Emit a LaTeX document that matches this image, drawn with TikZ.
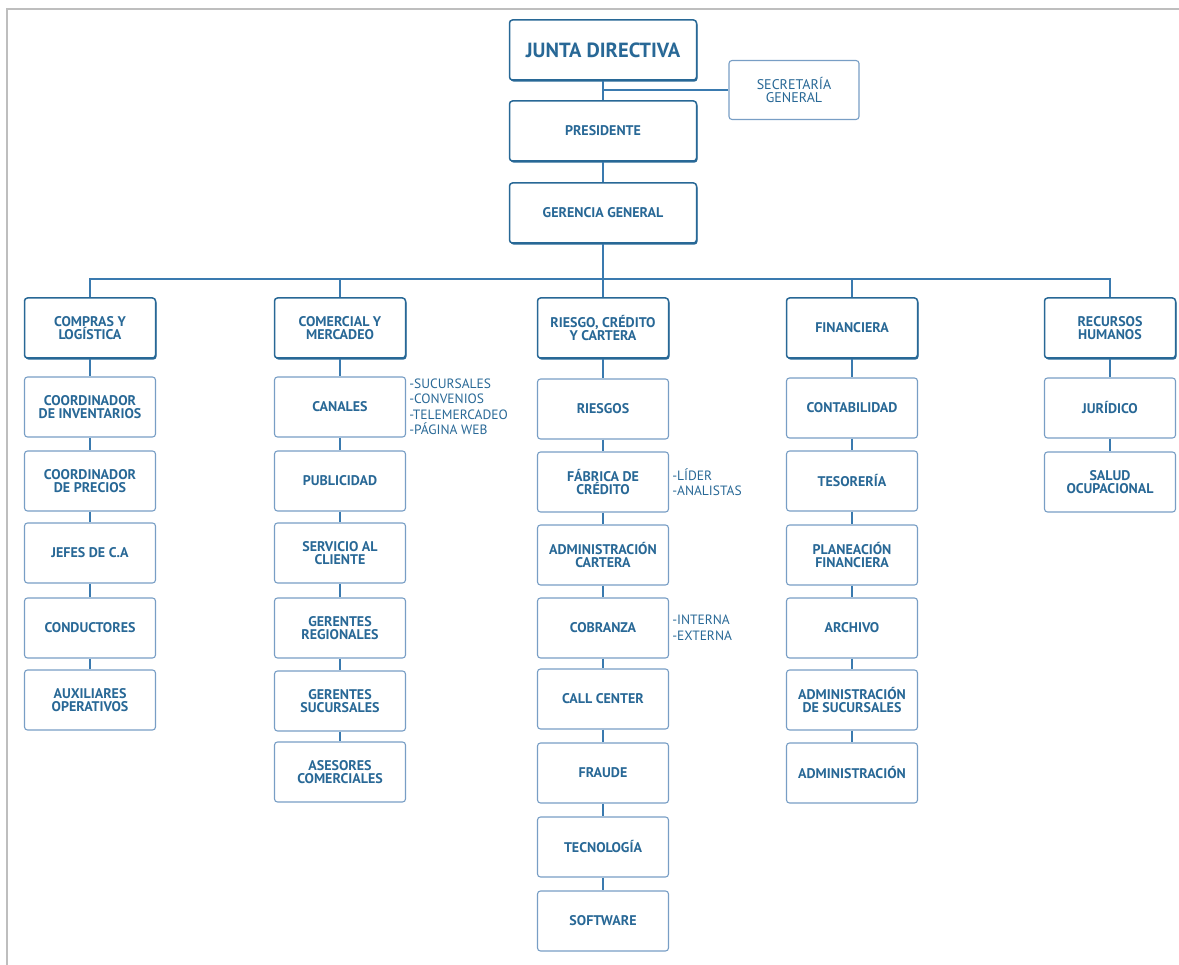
\documentclass[tikz,border=0pt]{standalone}
\usepackage{fontspec}
\setmainfont{PT Sans}
\usetikzlibrary{shadows,positioning}
\definecolor{orgblue}{RGB}{40,104,150}
\definecolor{orgline}{RGB}{58,122,175}
\definecolor{orglight}{RGB}{120,158,197}
\definecolor{framegray}{RGB}{190,190,190}

\tikzset{
  headbox/.style={draw=orgblue, line width=1.5pt, fill=white, rounded corners=3pt,
    minimum width=131pt, minimum height=60pt, inner sep=2pt, align=center,
    text=orgblue, font=\bfseries\fontsize{14}{13.5}\selectfont,
    general shadow={fill=orgblue, shadow xshift=1pt, shadow yshift=-1.6pt}},
  topbox/.style={headbox, minimum width=187pt},
  subbox/.style={draw=orglight, line width=1.1pt, fill=white, rounded corners=3pt,
    minimum width=131pt, minimum height=60pt, inner sep=2pt, align=center,
    text=orgblue, font=\bfseries\fontsize{14}{13.5}\selectfont},
  sidelist/.style={right=3pt, align=left, text=orgblue, inner sep=0pt,
    font=\fontsize{13.5}{15.5}\selectfont},
  link/.style={draw=orgline, line width=2.4pt}
}

\begin{document}
\begin{tikzpicture}[x=1pt,y=-1pt]
\useasboundingbox (0,0) rectangle (1179,965);

% to draw the grey frame
\draw [framegray, line width=2pt] (7,965) -- (7,9) -- (1179,9);

% to write the top of the chart
\node [topbox, font=\bfseries\fontsize{20.5}{21}\selectfont] (junta) at (603,50) {JUNTA DIRECTIVA};
\node [subbox, minimum width=130pt, minimum height=59pt, font=\fontsize{14}{13.5}\selectfont] (secre) at (794,90) {SECRETARÍA\\GENERAL};
\node [topbox] (pres) at (603,131) {PRESIDENTE};
\node [topbox] (gerencia) at (603,213) {GERENCIA GENERAL};

%Areas:
\node [headbox] (compras) at (90,328) {COMPRAS Y\\LOGÍSTICA};
\node [headbox] (comercial) at (340,328) {COMERCIAL Y\\MERCADEO};
\node [headbox] (riesgo) at (603,328) {RIESGO, CRÉDITO\\Y CARTERA};
\node [headbox] (financiera) at (852,328) {FINANCIERA};
\node [headbox] (rrhh) at (1110,328) {RECURSOS\\HUMANOS};

%Compras y logistica:
\node [subbox] (inventarios) at (90,407) {COORDINADOR\\DE INVENTARIOS};
\node [subbox] (precios) at (90,481) {COORDINADOR\\DE PRECIOS};
\node [subbox] (jefes) at (90,553) {JEFES DE C.A};
\node [subbox] (conductores) at (90,628) {CONDUCTORES};
\node [subbox] (auxiliares) at (90,700) {AUXILIARES\\OPERATIVOS};

%Comercial y mercadeo:
\node [subbox] (canales) at (340,407) {CANALES};
\node [subbox] (publicidad) at (340,481) {PUBLICIDAD};
\node [subbox] (servicio) at (340,553) {SERVICIO AL\\CLIENTE};
\node [subbox] (regionales) at (340,628) {GERENTES\\REGIONALES};
\node [subbox] (sucursales) at (340,701) {GERENTES\\SUCURSALES};
\node [subbox] (asesores) at (340,772) {ASESORES\\COMERCIALES};
\node [sidelist] (canaleslist) at (canales.east) {-SUCURSALES\\-CONVENIOS\\-TELEMERCADEO\\-PÁGINA WEB};

%Riesgo, credito y cartera:
\node [subbox] (riesgos) at (603,409) {RIESGOS};
\node [subbox] (fabrica) at (603,482) {FÁBRICA DE\\CRÉDITO};
\node [subbox] (cartera) at (603,555) {ADMINISTRACIÓN\\CARTERA};
\node [subbox] (cobranza) at (603,628) {COBRANZA};
\node [subbox] (callcenter) at (603,699) {CALL CENTER};
\node [subbox] (fraude) at (603,773) {FRAUDE};
\node [subbox] (tecnologia) at (603,847) {TECNOLOGÍA};
\node [subbox] (software) at (603,921) {SOFTWARE};
\node [sidelist] (fabricalist) at (fabrica.east) {-LÍDER\\-ANALISTAS};
\node [sidelist] (cobranzalist) at (cobranza.east) {-INTERNA\\-EXTERNA};

%Financiera:
\node [subbox] (contabilidad) at (852,408) {CONTABILIDAD};
\node [subbox] (tesoreria) at (852,481) {TESORERÍA};
\node [subbox] (planeacion) at (852,555) {PLANEACIÓN\\FINANCIERA};
\node [subbox] (archivo) at (852,628) {ARCHIVO};
\node [subbox] (adminsuc) at (852,700) {ADMINISTRACIÓN\\DE SUCURSALES};
\node [subbox] (administracion) at (852,773) {ADMINISTRACIÓN};

%Recursos humanos:
\node [subbox] (juridico) at (1110,408) {JURÍDICO};
\node [subbox] (salud) at (1110,482) {SALUD\\OCUPACIONAL};

% to draw the connectors
\coordinate (bus) at (603,279);
\draw [link] (junta) -- (pres) -- (gerencia);
\draw [link] (junta.south |- secre.west) -- (secre.west);
\draw [link] (gerencia) -- (bus);
\draw [link] (compras) -- (compras.north |- bus) -- (rrhh.north |- bus) -- (rrhh);
\draw [link] (comercial) -- (comercial.north |- bus);
\draw [link] (riesgo) -- (riesgo.north |- bus);
\draw [link] (financiera) -- (financiera.north |- bus);

\draw [link] (compras) -- (inventarios) -- (precios) -- (jefes) -- (conductores) -- (auxiliares);
\draw [link] (comercial) -- (canales) -- (publicidad) -- (servicio) -- (regionales) -- (sucursales) -- (asesores);
\draw [link] (riesgo) -- (riesgos) -- (fabrica) -- (cartera) -- (cobranza) -- (callcenter) -- (fraude) -- (tecnologia) -- (software);
\draw [link] (financiera) -- (contabilidad) -- (tesoreria) -- (planeacion) -- (archivo) -- (adminsuc) -- (administracion);
\draw [link] (rrhh) -- (juridico) -- (salud);
\end{tikzpicture}
\end{document}
